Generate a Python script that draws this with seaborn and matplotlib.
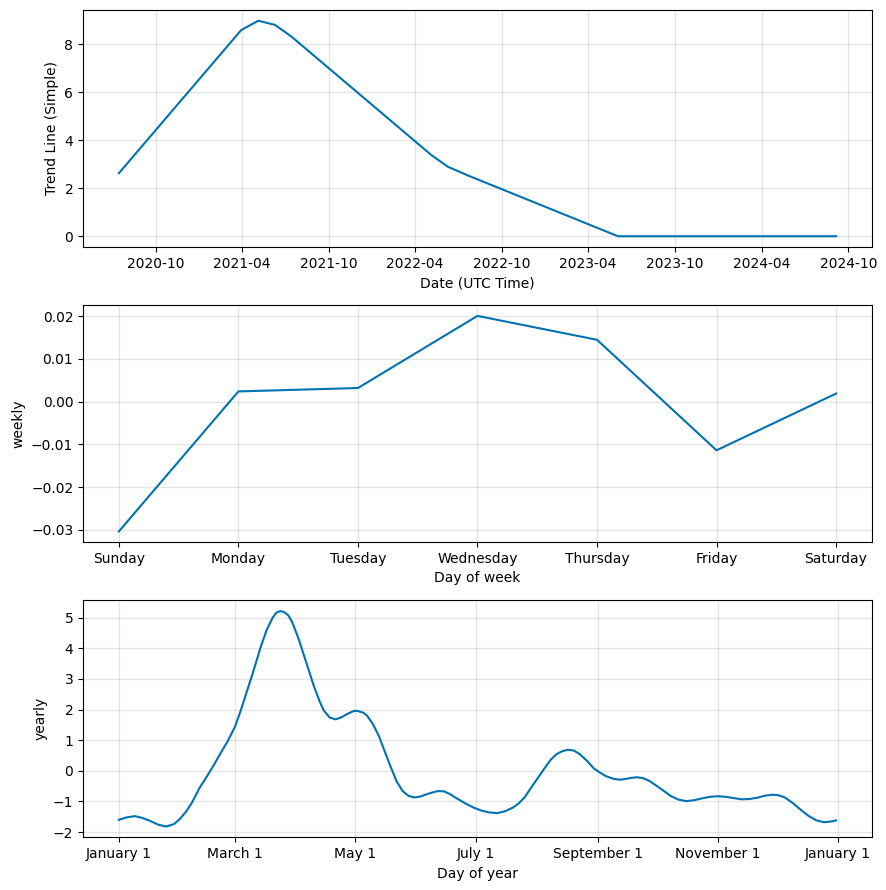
import numpy as np
import pandas as pd
import matplotlib
matplotlib.use("Agg")
import matplotlib.pyplot as plt
import matplotlib.dates as mdates
from matplotlib.ticker import FuncFormatter
import seaborn as sns

LINE_COLOR = "#0072B2"

# trend component (changepoint knots)
trend_dates = ["2020-07-15", "2021-03-30", "2021-05-05", "2021-06-09", "2021-07-14",
               "2022-05-05", "2022-06-09", "2022-07-22", "2023-06-03", "2024-09-05"]
trend_values = [2.63, 8.60, 8.99, 8.82, 8.33, 3.39, 2.90, 2.53, 0.0, 0.0]

# weekly component
week_days = ["Sunday", "Monday", "Tuesday", "Wednesday", "Thursday", "Friday", "Saturday"]
weekly_values = [-0.0304, 0.0024, 0.0032, 0.0201, 0.0145, -0.0114, 0.0019]

# yearly component (day of year, value)
yearly_days = [0, 4, 8, 12, 16, 20, 24, 28, 31, 34, 37, 41, 45, 48, 52, 55, 59, 62, 65, 68,
               72, 75, 78, 80, 82, 84, 86, 88, 91, 95, 99, 102, 104, 107, 110, 113, 116, 119,
               121, 124, 126, 129, 132, 135, 138, 141, 144, 147, 150, 153, 156, 159, 162, 165,
               168, 172, 176, 180, 184, 188, 192, 196, 200, 203, 206, 209, 213, 216, 219, 222,
               225, 228, 231, 234, 238, 241, 244, 247, 251, 254, 257, 260, 263, 266, 269, 272,
               276, 280, 284, 288, 292, 296, 300, 304, 308, 312, 316, 320, 324, 328, 332, 335,
               338, 342, 346, 350, 354, 358, 362, 364]
yearly_values = [-1.60, -1.52, -1.48, -1.54, -1.64, -1.76, -1.82, -1.74, -1.57, -1.34, -1.05,
                 -0.55, -0.15, 0.17, 0.62, 0.94, 1.45, 2.00, 2.60, 3.20, 4.05, 4.60, 5.00, 5.17,
                 5.22, 5.18, 5.08, 4.85, 4.35, 3.56, 2.76, 2.25, 1.97, 1.74, 1.68, 1.75, 1.86,
                 1.95, 1.96, 1.90, 1.80, 1.52, 1.13, 0.62, 0.12, -0.35, -0.66, -0.82, -0.87,
                 -0.84, -0.77, -0.71, -0.66, -0.67, -0.76, -0.92, -1.07, -1.20, -1.30, -1.36,
                 -1.38, -1.32, -1.20, -1.06, -0.86, -0.57, -0.20, 0.08, 0.35, 0.54, 0.64, 0.69,
                 0.66, 0.54, 0.30, 0.08, -0.05, -0.17, -0.26, -0.29, -0.27, -0.23, -0.21, -0.24,
                 -0.32, -0.45, -0.63, -0.82, -0.94, -0.99, -0.96, -0.90, -0.85, -0.83, -0.85,
                 -0.89, -0.93, -0.92, -0.88, -0.81, -0.78, -0.80, -0.87, -1.05, -1.27, -1.47,
                 -1.62, -1.68, -1.65, -1.62]


def style_axis(ax):
    ax.grid(True, which="major", c="gray", ls="-", lw=1, alpha=0.2)


def run():
    fig, axes = plt.subplots(3, 1, figsize=(8.87, 8.90), dpi=100)
    fig.subplots_adjust(left=0.0936, right=0.983, top=0.9888, bottom=0.0592, hspace=0.245)

    # trend
    ax = axes[0]
    trend = pd.DataFrame({"ds": pd.to_datetime(trend_dates), "trend": trend_values})
    sns.lineplot(data=trend, x="ds", y="trend", ax=ax, color=LINE_COLOR, lw=1.5)
    ax.xaxis.set_major_locator(mdates.MonthLocator(bymonth=[4, 10]))
    ax.xaxis.set_major_formatter(mdates.DateFormatter("%Y-%m"))
    ax.set_xlabel("Date (UTC Time)")
    ax.set_ylabel("Trend Line (Simple)")
    style_axis(ax)

    # weekly
    ax = axes[1]
    weekly = pd.DataFrame({"day": np.arange(len(week_days)), "weekly": weekly_values})
    sns.lineplot(data=weekly, x="day", y="weekly", ax=ax, color=LINE_COLOR, lw=1.5)
    ax.set_xticks(range(len(week_days)))
    ax.set_xticklabels(week_days)
    ax.set_xlabel("Day of week")
    ax.set_ylabel("weekly")
    style_axis(ax)

    # yearly
    ax = axes[2]
    yearly = pd.DataFrame({
        "ds": pd.Timestamp("2017-01-01") + pd.to_timedelta(yearly_days, unit="D"),
        "yearly": yearly_values,
    })
    sns.lineplot(data=yearly, x="ds", y="yearly", ax=ax, color=LINE_COLOR, lw=1.5)
    ax.xaxis.set_major_locator(mdates.MonthLocator(bymonth=[1, 3, 5, 7, 9, 11], bymonthday=1))
    ax.xaxis.set_major_formatter(
        FuncFormatter(lambda x, pos=None: "{dt:%B} {dt.day}".format(dt=mdates.num2date(x))))
    ax.set_xlabel("Day of year")
    ax.set_ylabel("yearly")
    style_axis(ax)

    fig.savefig("out.png", dpi=100)
    plt.close(fig)


if __name__ == "__main__":
    run()
